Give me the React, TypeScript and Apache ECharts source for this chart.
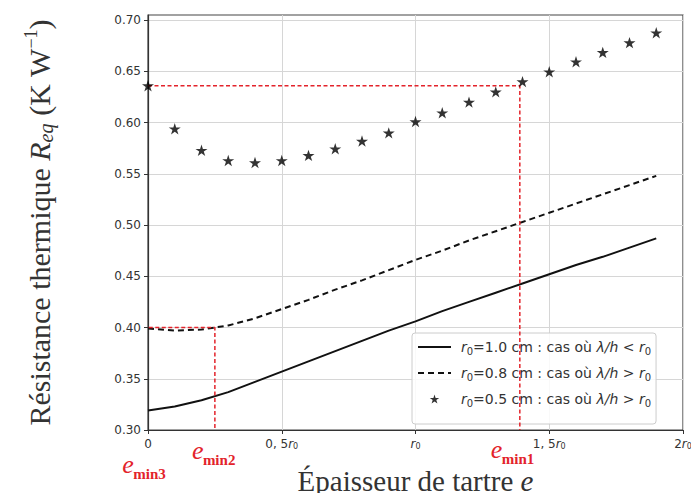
import React, { useEffect, useRef } from 'react';
import * as echarts from 'echarts';

// Épaisseur e, in units of r0
const thickness = [0, 0.1, 0.2, 0.3, 0.4, 0.5, 0.6, 0.7, 0.8, 0.9, 1.0, 1.1, 1.2, 1.3, 1.4, 1.5, 1.6, 1.7, 1.8, 1.9];
// r0 = 1.0 cm (solid)
const rEq10 = [0.319, 0.323, 0.329, 0.337, 0.347, 0.357, 0.367, 0.377, 0.387, 0.397, 0.406, 0.416, 0.425, 0.434, 0.443, 0.452, 0.461, 0.469, 0.478, 0.487];
// r0 = 0.8 cm (dashed)
const rEq08 = [0.399, 0.397, 0.398, 0.402, 0.409, 0.418, 0.427, 0.437, 0.446, 0.456, 0.466, 0.475, 0.485, 0.494, 0.503, 0.512, 0.521, 0.530, 0.539, 0.548];
// r0 = 0.5 cm (stars)
const rEq05 = [0.636, 0.594, 0.573, 0.563, 0.561, 0.563, 0.568, 0.5745, 0.582, 0.590, 0.601, 0.6096, 0.620, 0.630, 0.640, 0.6496, 0.6594, 0.6685, 0.678, 0.6877];

const legendLabels: Record<string, string> = {
  r10: '{f|r}{s|0}{n|=1.0 cm : cas où }{i|λ/h}{n| < }{i|r}{s|0}',
  r08: '{f|r}{s|0}{n|=0.8 cm : cas où }{i|λ/h}{n| > }{i|r}{s|0}',
  r05: '{f|r}{s|0}{n|=0.5 cm : cas où }{i|λ/h}{n| > }{i|r}{s|0}',
};

const xTicks = [0, 0.5, 1, 1.5, 2];
const xTickLabels = ['{n|0}', '{n|0, 5}{i|r}{s|0}', '{i|r}{s|0}', '{n|1, 5}{i|r}{s|0}', '{n|2}{i|r}{s|0}'];
const yTicks = [0.3, 0.35, 0.4, 0.45, 0.5, 0.55, 0.6, 0.65, 0.7];

// Minimum-thickness markers
const eMin1 = { e: 1.39, r: 0.636 };
const eMin2 = { e: 0.25, r: 0.40 };
const eMin3 = { e: -0.07, r: 0.40 };
const eMinLabels = [
  { sub: 'min1', e: eMin1.e, dx: -29, dy: -2 },
  { sub: 'min2', e: eMin2.e, dx: -23, dy: -1 },
  { sub: 'min3', e: eMin3.e, dx: -7, dy: 13 },
];

const STAR = 'path://M0,-1L0.2245,-0.309L0.951,-0.309L0.363,0.118L0.588,0.809L0,0.382L-0.588,0.809L-0.363,0.118L-0.951,-0.309L-0.2245,-0.309Z';
const RED = '#e3232b';
const SANS = '"DejaVu Sans", sans-serif';
const SERIF = '"Liberation Serif", serif';
const TXT = '#333';

export default function App() {
  const ref = useRef<HTMLDivElement>(null);
  useEffect(() => {
    if (!ref.current) return;
    const chart = echarts.init(ref.current, null, { renderer: 'svg' });
    const pts = (ys: number[]) => thickness.map((x, i) => [x, ys[i]]);
    const tickRich = {
      n: { fontFamily: SANS, fontSize: 12, color: TXT },
      i: { fontFamily: SANS, fontSize: 12, color: TXT, fontStyle: 'italic' },
      s: { fontFamily: SANS, fontSize: 8, color: TXT, verticalAlign: 'bottom', lineHeight: 9 },
    };
    const LFS = 14;
    const hideSym = { color: 'rgba(0,0,0,0)', opacity: 0, borderWidth: 0 };
    const option: any = {
      animation: false,
      backgroundColor: '#fff',
      grid: {
        left: 148, right: 16, top: 15, bottom: 71,
        containLabel: false, outerBoundsMode: 'none',
        show: true, borderColor: '#444', borderWidth: 1.2, backgroundColor: 'transparent',
      },
      xAxis: {
        type: 'value', min: 0, max: 2, interval: 0.5,
        name: '{n|Épaisseur de tartre }{i|e}',
        nameLocation: 'middle', nameGap: 38,
        nameTextStyle: {
          rich: {
            n: { fontFamily: SERIF, fontSize: 29, color: TXT, lineHeight: 26 },
            i: { fontFamily: SERIF, fontSize: 29, color: TXT, fontStyle: 'italic', lineHeight: 26 },
          },
        },
        axisLine: { show: true, lineStyle: { color: '#333', width: 1.2 } },
        axisTick: { show: true, length: 4, lineStyle: { color: '#333' } },
        axisLabel: {
          margin: 8,
          formatter: (v: number) => {
            const k = xTicks.findIndex((t) => Math.abs(t - v) < 1e-6);
            return k >= 0 ? xTickLabels[k] : '';
          },
          rich: tickRich,
        },
        splitLine: { show: true, lineStyle: { color: '#d6d6d6', width: 1 } },
      },
      yAxis: {
        type: 'value', min: 0.3, max: 0.705, interval: 0.05,
        name: '{n|Résistance thermique }{i|R}{s|eq}{n| (K W}{p|−1}{n|)}',
        nameLocation: 'middle', nameGap: 92, nameRotate: 90,
        nameTextStyle: {
          rich: {
            n: { fontFamily: SERIF, fontSize: 30, color: TXT, lineHeight: 34 },
            i: { fontFamily: SERIF, fontSize: 30, color: TXT, fontStyle: 'italic', lineHeight: 34 },
            s: { fontFamily: SERIF, fontSize: 20, color: TXT, fontStyle: 'italic', verticalAlign: 'bottom', lineHeight: 20 },
            p: { fontFamily: SERIF, fontSize: 18, color: TXT, verticalAlign: 'top', lineHeight: 18 },
          },
        },
        axisLine: { show: true, lineStyle: { color: '#333', width: 1.2 } },
        axisTick: { show: true, length: 4, lineStyle: { color: '#333' }, customValues: yTicks },
        axisLabel: {
          margin: 7, fontFamily: SANS, fontSize: 12, color: TXT,
          customValues: yTicks,
          formatter: (v: number) => v.toFixed(2),
        },
        splitLine: { show: true, lineStyle: { color: '#d6d6d6', width: 1 } },
      },
      legend: {
        data: [
          { name: 'r10', itemStyle: hideSym },
          { name: 'r08', itemStyle: hideSym },
          { name: 'r05', icon: STAR },
        ],
        orient: 'vertical',
        left: 412, top: 333,
        itemWidth: 33, itemHeight: 9, itemGap: 10,
        padding: [7, 5, 16, 5],
        backgroundColor: 'rgba(255,255,255,0.85)',
        borderColor: '#cccccc', borderWidth: 1, borderRadius: 3,
        formatter: (name: string) => legendLabels[name],
        textStyle: {
          rich: {
            f: { fontFamily: SANS, fontSize: LFS, color: TXT, fontStyle: 'italic', lineHeight: 18, padding: [0, 0, 0, 5] },
            n: { fontFamily: SANS, fontSize: LFS, color: TXT, lineHeight: 18 },
            i: { fontFamily: SANS, fontSize: LFS, color: TXT, fontStyle: 'italic', lineHeight: 18 },
            s: { fontFamily: SANS, fontSize: 10, color: TXT, verticalAlign: 'bottom', lineHeight: 12 },
          },
        },
      },
      series: [
        {
          name: 'r10', type: 'line', data: pts(rEq10), symbol: 'none', z: 3,
          lineStyle: { color: '#111', width: 2 }, itemStyle: { color: '#111' },
        },
        {
          name: 'r08', type: 'line', data: pts(rEq08), symbol: 'none', z: 3,
          lineStyle: { color: '#111', width: 2, type: [6, 4] }, itemStyle: { color: '#111' },
        },
        {
          name: 'r05', type: 'scatter', data: pts(rEq05), symbol: STAR, symbolSize: 12,
          symbolKeepAspect: true, z: 5, itemStyle: { color: '#000' },
        },
        {
          name: 'emin1', type: 'line', symbol: 'none', silent: true, z: 4,
          data: [[0, eMin1.r], [eMin1.e, eMin1.r], [eMin1.e, 0.3]],
          lineStyle: { color: RED, width: 1.5, type: [4, 2.5] },
        },
        {
          name: 'emin2', type: 'line', symbol: 'none', silent: true, z: 4, clip: false,
          data: [[eMin3.e, eMin2.r], [eMin2.e, eMin2.r], [eMin2.e, 0.3]],
          lineStyle: { color: RED, width: 1.5, type: [4, 2.5] },
        },
      ],
    };
    chart.setOption(option);

    const graphics: any[] = [];
    eMinLabels.forEach((lab) => {
      const p = chart.convertToPixel({ gridIndex: 0 }, [lab.e, 0.3]) as number[];
      const x0 = p[0] + lab.dx;
      const y0 = p[1] + lab.dy;
      graphics.push({
        type: 'text', x: x0, y: y0 + 21, silent: true,
        style: { text: 'e', fontFamily: SERIF, fontSize: 26, fontStyle: 'italic', fill: RED, align: 'left', verticalAlign: 'middle' },
      });
      graphics.push({
        type: 'text', x: x0 + 11, y: y0 + 31, silent: true,
        style: { text: lab.sub, fontFamily: SERIF, fontSize: 15, fontWeight: 'bold', fill: RED, align: 'left', verticalAlign: 'middle' },
      });
    });
    chart.setOption({ graphic: graphics });

    return () => chart.dispose();
  }, []);
  return <div ref={ref} style={{ width: 699, height: 501, margin: -8 }} />;
}
